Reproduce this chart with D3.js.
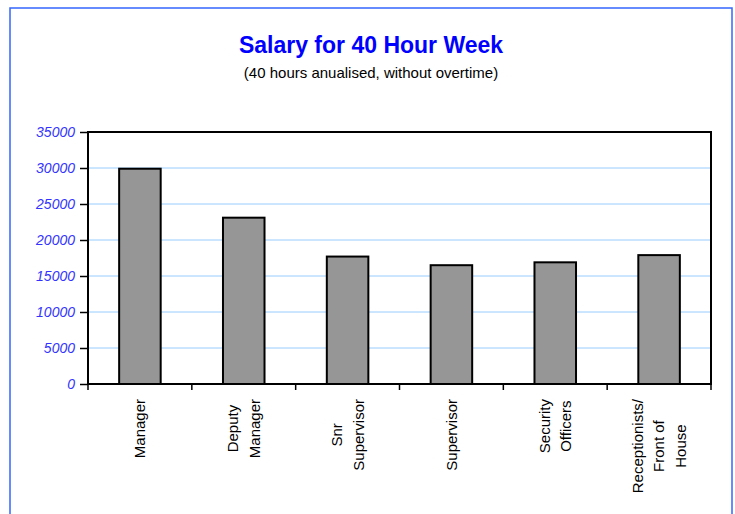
<!DOCTYPE html>
<html>
<head>
<meta charset="utf-8">
<script src="https://cdn.jsdelivr.net/npm/d3@7"></script>
<style>
  body { margin: 0; background: #fff; }
  svg { display: block; font-family: Arial, "Liberation Sans", sans-serif; }
</style>
</head>
<body>
<svg></svg>
<script>
const w = 735;
const h = 514;

// chart data
const categories = [
	['Manager'],
	['Deputy', 'Manager'],
	['Snr', 'Supervisor'],
	['Supervisor'],
	['Security', 'Officers'],
	['Receptionists/', 'Front of', 'House'],
];
const salaries = [29900, 23100, 17700, 16500, 16900, 17900];
const yTicks = [0, 5000, 10000, 15000, 20000, 25000, 30000, 35000];

const plot = { left: 88, right: 711, top: 132, bottom: 384 };

let canvas = d3.select('svg').attr('width', w).attr('height', h);

// outer chart frame
canvas
	.append('rect')
	.attr('x', 10)
	.attr('y', 8)
	.attr('width', 722)
	.attr('height', 530)
	.attr('fill', 'none')
	.attr('stroke', '#3366FF')
	.attr('stroke-width', 1.5);

canvas
	.append('text')
	.attr('x', 371)
	.attr('y', 53)
	.attr('text-anchor', 'middle')
	.attr('font-size', '23px')
	.attr('font-weight', 'bold')
	.attr('fill', '#0000FF')
	.text('Salary for 40 Hour Week');

canvas
	.append('text')
	.attr('x', 371)
	.attr('y', 78)
	.attr('text-anchor', 'middle')
	.attr('font-size', '15px')
	.attr('fill', '#000')
	.text('(40 hours anualised, without overtime)');

const xScale = d3
	.scaleBand()
	.domain(d3.range(categories.length))
	.range([plot.left, plot.right])
	.paddingInner(0.6)
	.paddingOuter(0.3);

const stepScale = d3
	.scaleBand()
	.domain(d3.range(categories.length))
	.range([plot.left, plot.right]);

const yScale = d3.scaleLinear().domain([0, 35000]).range([plot.bottom, plot.top]);

// gridlines
canvas
	.append('g')
	.selectAll('line')
	.data(yTicks.filter((t) => t > 0 && t < 35000))
	.enter()
	.append('line')
	.attr('x1', plot.left)
	.attr('x2', plot.right)
	.attr('y1', (d) => yScale(d))
	.attr('y2', (d) => yScale(d))
	.attr('stroke', '#99CCFF')
	.attr('stroke-width', 1);

// bars
canvas
	.append('g')
	.selectAll('rect')
	.data(salaries)
	.enter()
	.append('rect')
	.attr('x', (d, i) => xScale(i))
	.attr('y', (d) => yScale(d))
	.attr('width', xScale.bandwidth())
	.attr('height', (d) => yScale(0) - yScale(d))
	.attr('fill', '#969696')
	.attr('stroke', '#000')
	.attr('stroke-width', 2);

// plot frame
canvas
	.append('rect')
	.attr('x', plot.left)
	.attr('y', plot.top)
	.attr('width', plot.right - plot.left)
	.attr('height', plot.bottom - plot.top)
	.attr('fill', 'none')
	.attr('stroke', '#000')
	.attr('stroke-width', 2);

// y axis
let yAxis = d3.axisLeft(yScale).tickValues(yTicks).tickSize(8).tickPadding(5).tickFormat(d3.format('d'));
let yg = canvas.append('g').attr('transform', `translate(${plot.left},0)`).call(yAxis);
yg.select('.domain').remove();
yg.selectAll('.tick line').attr('stroke', '#000').attr('stroke-width', 1.5);
yg.selectAll('.tick text')
	.attr('font-size', '14px')
	.attr('font-style', 'italic')
	.attr('font-family', 'Arial, "Liberation Sans", sans-serif')
	.attr('fill', '#3333FF');

// x axis ticks at category boundaries
const boundaries = d3.range(categories.length + 1).map((i) =>
	i < categories.length ? stepScale(i) : plot.right
);
canvas
	.append('g')
	.selectAll('line')
	.data(boundaries)
	.enter()
	.append('line')
	.attr('x1', (d) => d)
	.attr('x2', (d) => d)
	.attr('y1', plot.bottom)
	.attr('y2', plot.bottom + 6)
	.attr('stroke', '#000')
	.attr('stroke-width', 1.5);

// category labels, rotated, lines centred
const labelTop = 399;
const lineGap = 21.5;
categories.forEach((lines, i) => {
	const cx = stepScale(i) + stepScale.bandwidth() / 2;
	const t = canvas
		.append('text')
		.attr('font-size', '15px')
		.attr('fill', '#000')
		.attr('text-anchor', 'middle');
	lines.forEach((line, j) => {
		t.append('tspan')
			.attr('x', 0)
			.attr('y', (j - (lines.length - 1) / 2) * lineGap)
			.attr('dy', '0.35em')
			.text(line);
	});
	const maxLen = d3.max(t.selectAll('tspan').nodes(), (n) => n.getComputedTextLength());
	t.attr('transform', `translate(${cx},${labelTop + maxLen / 2}) rotate(-90)`);
});
</script>
</body>
</html>
